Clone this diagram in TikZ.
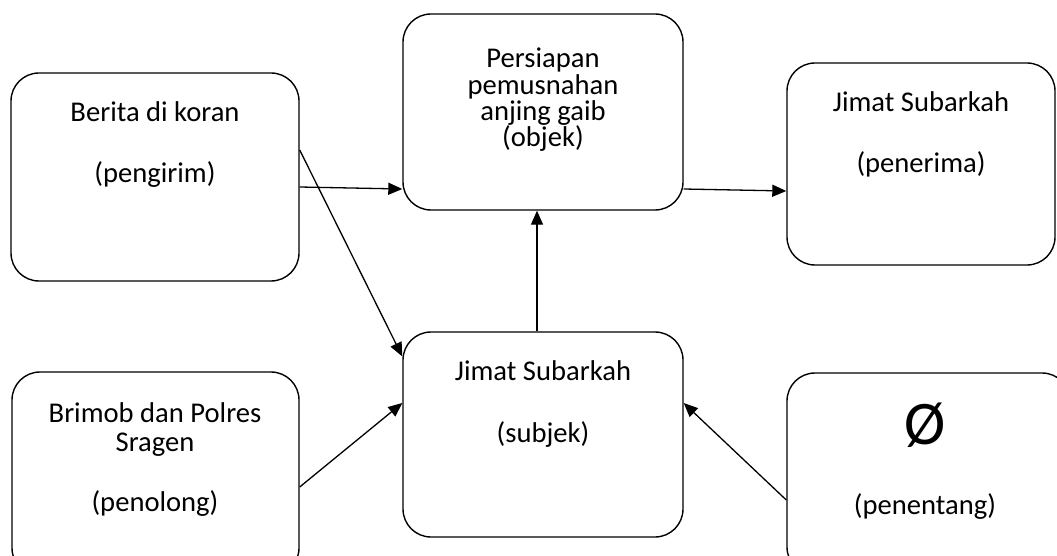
\documentclass[tikz,border=0pt]{standalone}
\usepackage{fontspec}
\setmainfont{Carlito}
\usetikzlibrary{arrows.meta}
\begin{document}
\begin{tikzpicture}[x=1pt,y=-1pt,
  box/.style={draw, line width=1.4pt, rounded corners=28pt, fill=white, inner sep=0pt},
  txt/.style={anchor=base, inner sep=0pt, font=\fontsize{28.6}{30}\selectfont},
  big/.style={anchor=center, inner sep=0pt, font=\fontsize{62}{64}\selectfont},
  arr/.style={line width=1.3pt, -{Triangle[length=14pt,width=12pt]}}]
\useasboundingbox (0,0) rectangle (1057,556);
\clip (0,0) rectangle (1057,556);

% actant boxes
\node[box, minimum width=288pt, minimum height=208pt] (A) at (155,177) {};
\node[box, minimum width=280pt, minimum height=196pt] (B) at (543,112) {};
\node[box, minimum width=268pt, minimum height=202pt] (C) at (921,164) {};
\node[box, minimum width=287pt, minimum height=204pt] (D) at (155.5,474) {};
\node[box, minimum width=280pt, minimum height=205pt] (E) at (543,434.5) {};
\node[box, minimum width=283pt, minimum height=202pt] (F) at (928.5,474) {};

% labels
\node[txt] (a1) at (155,122) {Berita di koran};
\node[txt] (a2) at (155,183) {(pengirim)};

\node[txt] (b1) at (543,68) {Persiapan};
\node[txt] (b2) at (543,95) {pemusnahan};
\node[txt] (b3) at (543,121) {anjing gaib};
\node[txt] (b4) at (543,147) {(objek)};

\node[txt] (c1) at (921,112) {Jimat Subarkah};
\node[txt] (c2) at (921,173) {(penerima)};

\node[txt] (d1) at (155,422) {Brimob dan Polres};
\node[txt] (d2) at (155,451) {Sragen};
\node[txt] (d3) at (155,511) {(penolong)};

\node[txt] (e1) at (543,380) {Jimat Subarkah};
\node[txt] (e2) at (543,442) {(subjek)};

\node[big] (f1) at (925,425) {Ø};
\node[txt] (f2) at (925,514) {(penentang)};

% connectors
\draw[arr] ([yshift=-10pt]A.east) -- ([yshift=-77pt]B.west);
\draw[arr] ([yshift=27pt]A.east) -- ([yshift=78pt]E.west);
\draw[arr] ([xshift=-6pt]E.north) -- ([xshift=-6pt]B.south);
\draw[arr] ([yshift=-77pt]B.east) -- ([yshift=-27pt]C.west);
\draw[arr] ([yshift=-13pt]D.east) -- ([yshift=31.5pt]E.west);
\draw[arr] ([yshift=-26pt]F.west) -- ([yshift=31.5pt]E.east);
\end{tikzpicture}
\end{document}
